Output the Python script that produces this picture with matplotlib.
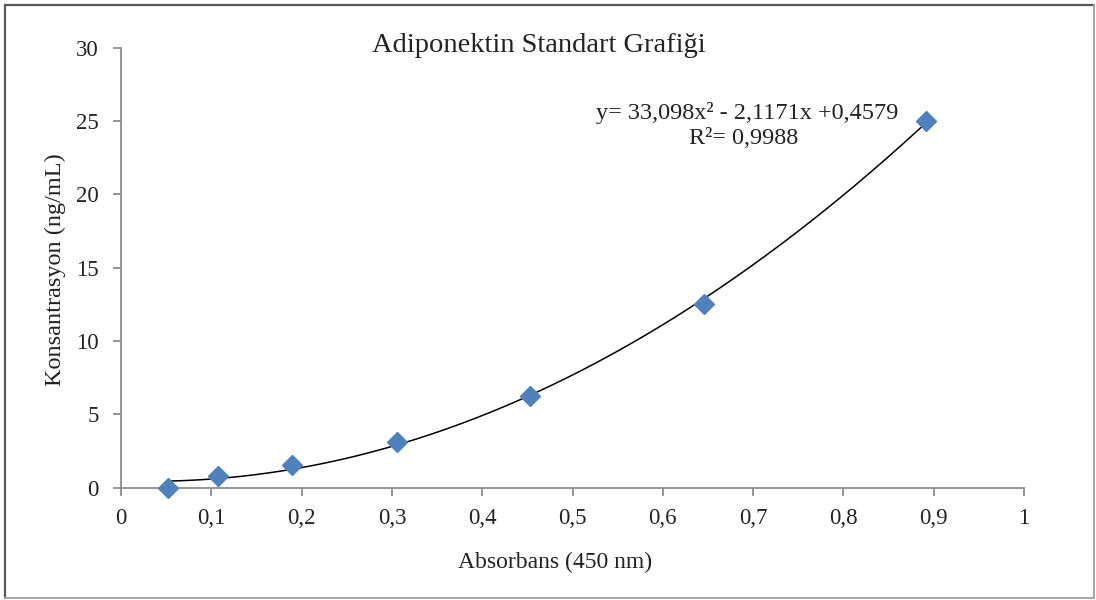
import numpy as np
import matplotlib
matplotlib.use("Agg")
import matplotlib.pyplot as plt
from matplotlib.lines import Line2D

# Standard curve: absorbance at 450 nm vs. adiponectin concentration
absorbance = [0.052, 0.107, 0.189, 0.306, 0.453, 0.646, 0.891]
concentration = [0.0, 0.78, 1.5625, 3.125, 6.25, 12.5, 25.0]

# Second-order polynomial trendline coefficients (a*x^2 + b*x + c)
poly_coeffs = [33.098, -2.1171, 0.4579]
r_squared = "0,9988"

x_ticks = [0, 0.1, 0.2, 0.3, 0.4, 0.5, 0.6, 0.7, 0.8, 0.9, 1.0]
x_tick_labels = ["0", "0,1", "0,2", "0,3", "0,4", "0,5", "0,6", "0,7", "0,8", "0,9", "1"]
y_ticks = [0, 5, 10, 15, 20, 25, 30]
y_tick_labels = ["0", "5", "10", "15", "20", "25", "30"]

title = "Adiponektin Standart Grafiği"
x_label = "Absorbans (450 nm)"
y_label = "Konsantrasyon (ng/mL)"
equation = "y= 33,098x\u00b2 - 2,1171x +0,4579"

plt.rcParams["font.family"] = ["Liberation Serif", "DejaVu Serif"]

W, H = 1096, 600
fig = plt.figure(figsize=(W / 100, H / 100), dpi=100)
fig.patch.set_facecolor("white")

ax = fig.add_axes([121 / W, 1 - 487.5 / H, (1024 - 121) / W, (487.5 - 47.7) / H])
ax.set_xlim(0, 1)
ax.set_ylim(0, 30)

axis_gray = "#8c8c8c"
for side in ("top", "right"):
    ax.spines[side].set_visible(False)
for side in ("left", "bottom"):
    ax.spines[side].set_color(axis_gray)
    ax.spines[side].set_linewidth(1.3)

ax.set_xticks(x_ticks)
ax.set_xticklabels(x_tick_labels)
ax.set_yticks(y_ticks)
ax.set_yticklabels(y_tick_labels)
ax.tick_params(axis="both", direction="out", length=6, width=1.3, color=axis_gray,
               labelsize=16.5, labelcolor="#222222")
ax.tick_params(axis="x", pad=9)
ax.tick_params(axis="y", pad=10)

# Trendline over the measured absorbance range
xs = np.linspace(min(absorbance), max(absorbance), 300)
ys = np.polyval(poly_coeffs, xs)
ax.plot(xs, ys, color="black", lw=1.1, zorder=2)

ax.plot(absorbance, concentration, linestyle="none", marker="D", markersize=10.5,
        color="#4f81bd", markeredgecolor="#4f81bd", zorder=3, clip_on=False)

fig.text(539 / W, 1 - 45 / H, title, ha="center", va="center", fontsize=20.5, color="#222222")
fig.text(747 / W, 1 - 113 / H, equation, ha="center", va="center", fontsize=17.5, color="#222222")
fig.text(744 / W, 1 - 139 / H, "R\u00b2= " + r_squared, ha="center", va="center", fontsize=17.5,
         color="#222222")
fig.text(555 / W, 1 - 562 / H, x_label, ha="center", va="center", fontsize=17, color="#222222")
fig.text(55 / W, 1 - 270 / H, y_label, ha="center", va="center", rotation=90, fontsize=17.5,
         color="#222222")

# Frame around the chart area
def fig_line(x0, y0, x1, y1, color, lw):
    fig.add_artist(Line2D([x0 / W, x1 / W], [1 - y0 / H, 1 - y1 / H],
                          transform=fig.transFigure, color=color, lw=lw))

fig_line(5, 5, 1094, 5, "#5a5a5a", 1.6)
fig_line(5, 5, 5, 598, "#5a5a5a", 1.6)
fig_line(1094, 5, 1094, 598, "#a6a6a6", 1.4)
fig_line(5, 598, 1094, 598, "#a6a6a6", 1.4)

fig.savefig("out.png", dpi=100, facecolor="white")
